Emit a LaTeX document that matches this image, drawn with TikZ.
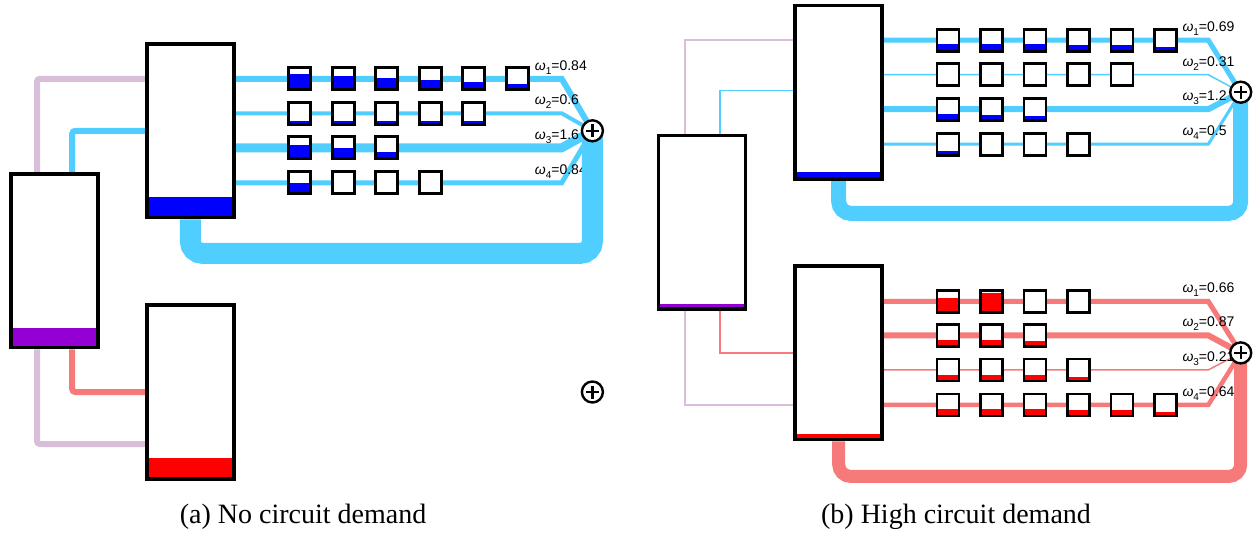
\documentclass[tikz,border=0pt]{standalone}
\usepackage{fontspec}
\newfontfamily\lblfont{Liberation Sans}
\newfontfamily\capfont{Liberation Serif}
\usetikzlibrary{calc,backgrounds}
\definecolor{netcyan}{RGB}{80,206,255}
\definecolor{netred}{RGB}{247,122,122}
\definecolor{netlilac}{RGB}{216,190,216}
\definecolor{qpurple}{RGB}{148,0,211}
\newcommand{\omlab}[2]{{\itshape ω}\raisebox{-4pt}{\fontsize{10}{10}\selectfont #1}=#2}

\begin{document}
\begin{tikzpicture}[x=1pt,y=-1pt,
  srv/.style 2 args={rectangle,draw,line width=3.6pt,fill=white,minimum width=87pt,minimum height=173.5pt,inner sep=0,
    path picture={\fill[#1] (path picture bounding box.south west) rectangle ($(path picture bounding box.south east)!#2!(path picture bounding box.north east)$);}},
  qbox/.style 2 args={rectangle,draw,line width=2.7pt,fill=white,minimum size=22pt,inner sep=0,
    path picture={\fill[#1] (path picture bounding box.south west) rectangle ($(path picture bounding box.south east)!#2!(path picture bounding box.north east)$);}},
  sumnode/.style={circle,draw,line width=2.4pt,fill=white,minimum size=21pt,inner sep=0,
    path picture={\draw[line width=2.4pt] ($(path picture bounding box.center)+(-6.5,0)$) -- ($(path picture bounding box.center)+(6.5,0)$)
      ($(path picture bounding box.center)+(0,-6.5)$) -- ($(path picture bounding box.center)+(0,6.5)$);}},
  wlabel/.style={anchor=base west,inner sep=0,font=\lblfont\fontsize{14}{16}\selectfont},
  caption/.style={font=\capfont\fontsize{28}{30}\selectfont},
  feed/.style={rounded corners=3pt},
  loopline/.style={rounded corners=12pt}]
\useasboundingbox (0,0) rectangle (1260,535);

% (a) no circuit demand
\node[srv={qpurple}{0.11}] (aP) at (54.2,260.8) {};
\node[srv={blue}{0.12}] (aT) at (190.4,130.8) {};
\node[srv={red}{0.12}] (aR) at (190.4,392) {};
\foreach \r/\dy/\lvls in {1/-52/{0.7,0.61,0.53,0.44,0.35,0.26},2/-17.5/{0.17,0.17,0.17,0.17,0.17},
    3/17/{0.65,0.47,0.3},4/52/{0.5,0.1,0.1,0.07}}{
  \foreach \lv [count=\c] in \lvls
    \node[qbox={blue}{\lv}] (aq\r\c) at ($(aT.center)+(65.8+43.5*\c,\dy)$) {};
}
\node[sumnode] (aS) at ($(aT.center)+(402,0)$) {};
\node[sumnode] (aS2) at ($(aR.center)+(402,0)$) {};

% (b) high circuit demand
\node[srv={qpurple}{0.03}] (bP) at (702,222.2) {};
\node[srv={blue}{0.038}] (bT) at (838.7,92.2) {};
\node[srv={red}{0.034}] (bR) at (838.7,352.9) {};
\foreach \r/\dy/\lvls in {1/-52/{0.32,0.32,0.32,0.29,0.27,0.2},2/-17.5/{0.05,0.05,0.05,0.05,0.05},
    3/17/{0.29,0.23,0.18},4/52/{0.21,0.03,0,0}}{
  \foreach \lv [count=\c] in \lvls
    \node[qbox={blue}{\lv}] (bq\r\c) at ($(bT.center)+(65.8+43.5*\c,\dy)$) {};
}
\foreach \r/\dy/\lvls in {1/-51.5/{0.64,0.9,0.05,0.05},2/-17.5/{0.3,0.3,0.23},
    3/17/{0.27,0.27,0.27,0.18},4/52/{0.3,0.3,0.3,0.25,0.25,0.2}}{
  \foreach \lv [count=\c] in \lvls
    \node[qbox={red}{\lv}] (cq\r\c) at ($(bR.center)+(65.8+43.5*\c,\dy)$) {};
}
\node[sumnode] (bS) at ($(bT.center)+(402,0)$) {};
\node[sumnode] (cS) at ($(bR.center)+(402,0)$) {};

\node[caption] (capa) at (303,517) {(a) No circuit demand};
\node[caption] (capb) at (956,517) {(b) High circuit demand};

\begin{scope}[on background layer]
  % feeders from the shared server
  \draw[netlilac,line width=6pt,feed] ($(aP.north)+(-17.2,0)$) |- ($(aT.west)+(0,-52)$);
  \draw[netcyan,line width=6pt,feed] ($(aP.north)+(18,0)$) |- (aT.west);
  \draw[netred,line width=6pt,feed] ($(aP.south)+(18,0)$) |- (aR.west);
  \draw[netlilac,line width=6pt,feed] ($(aP.south)+(-17.2,0)$) |- ($(aR.west)+(0,52)$);
  \draw[netlilac,line width=1.5pt] ($(bP.north)+(-17,0)$) |- ($(bT.west)+(0,-52)$);
  \draw[netcyan,line width=1.5pt] ($(bP.north)+(18,0)$) |- ($(bT.west)+(0,-1.5)$);
  \draw[netred,line width=1.5pt] ($(bP.south)+(18,0)$) |- (bR.west);
  \draw[netlilac,line width=1.5pt] ($(bP.south)+(-17,0)$) |- ($(bR.west)+(0,52)$);
  % queue lines and weights
  \foreach \r/\dy/\lw/\w in {1/-52/6/0.84,2/-17.5/4/0.6,3/17/9/1.6,4/52/5/0.84}{
    \coordinate (ab\r) at ($(aT.center)+(371.3,\dy)$);
    \draw[netcyan,line width=\lw] ($(aT.east)+(0,\dy)$) -- (ab\r) -- (aS.center);
    \node[wlabel] (aw\r) at ($(ab\r)+(-27,-8.5)$) {\omlab{\r}{\w}};
  }
  \foreach \r/\dy/\lw/\w in {1/-52/5/0.69,2/-17.5/1.5/0.31,3/17/6/1.2,4/52/3/0.5}{
    \coordinate (bb\r) at ($(bT.center)+(369.6,\dy)$);
    \draw[netcyan,line width=\lw] ($(bT.east)+(0,\dy)$) -- (bb\r) -- (bS.center);
    \node[wlabel] (bw\r) at ($(bb\r)+(-26,-8.5)$) {\omlab{\r}{\w}};
  }
  \foreach \r/\dy/\lw/\w in {1/-51.5/5/0.66,2/-17.5/6/0.87,3/17/1.5/0.21,4/52/4.5/0.64}{
    \coordinate (cb\r) at ($(bR.center)+(369.6,\dy)$);
    \draw[netred,line width=\lw] ($(bR.east)+(0,\dy)$) -- (cb\r) -- (cS.center);
    \node[wlabel] (cw\r) at ($(cb\r)+(-26,-8.5)$) {\omlab{\r}{\w}};
  }
  % return loops
  \draw[netcyan,line width=21pt,loopline] (aT.south) -- ++(0,34) -| (aS.center);
  \draw[netcyan,line width=15pt,loopline] (bT.south) -- ++(0,32.6) -| (bS.center);
  \draw[netred,line width=13pt,loopline] (bR.south) -- ++(0,35) -| (cS.center);
\end{scope}
\end{tikzpicture}
\end{document}
